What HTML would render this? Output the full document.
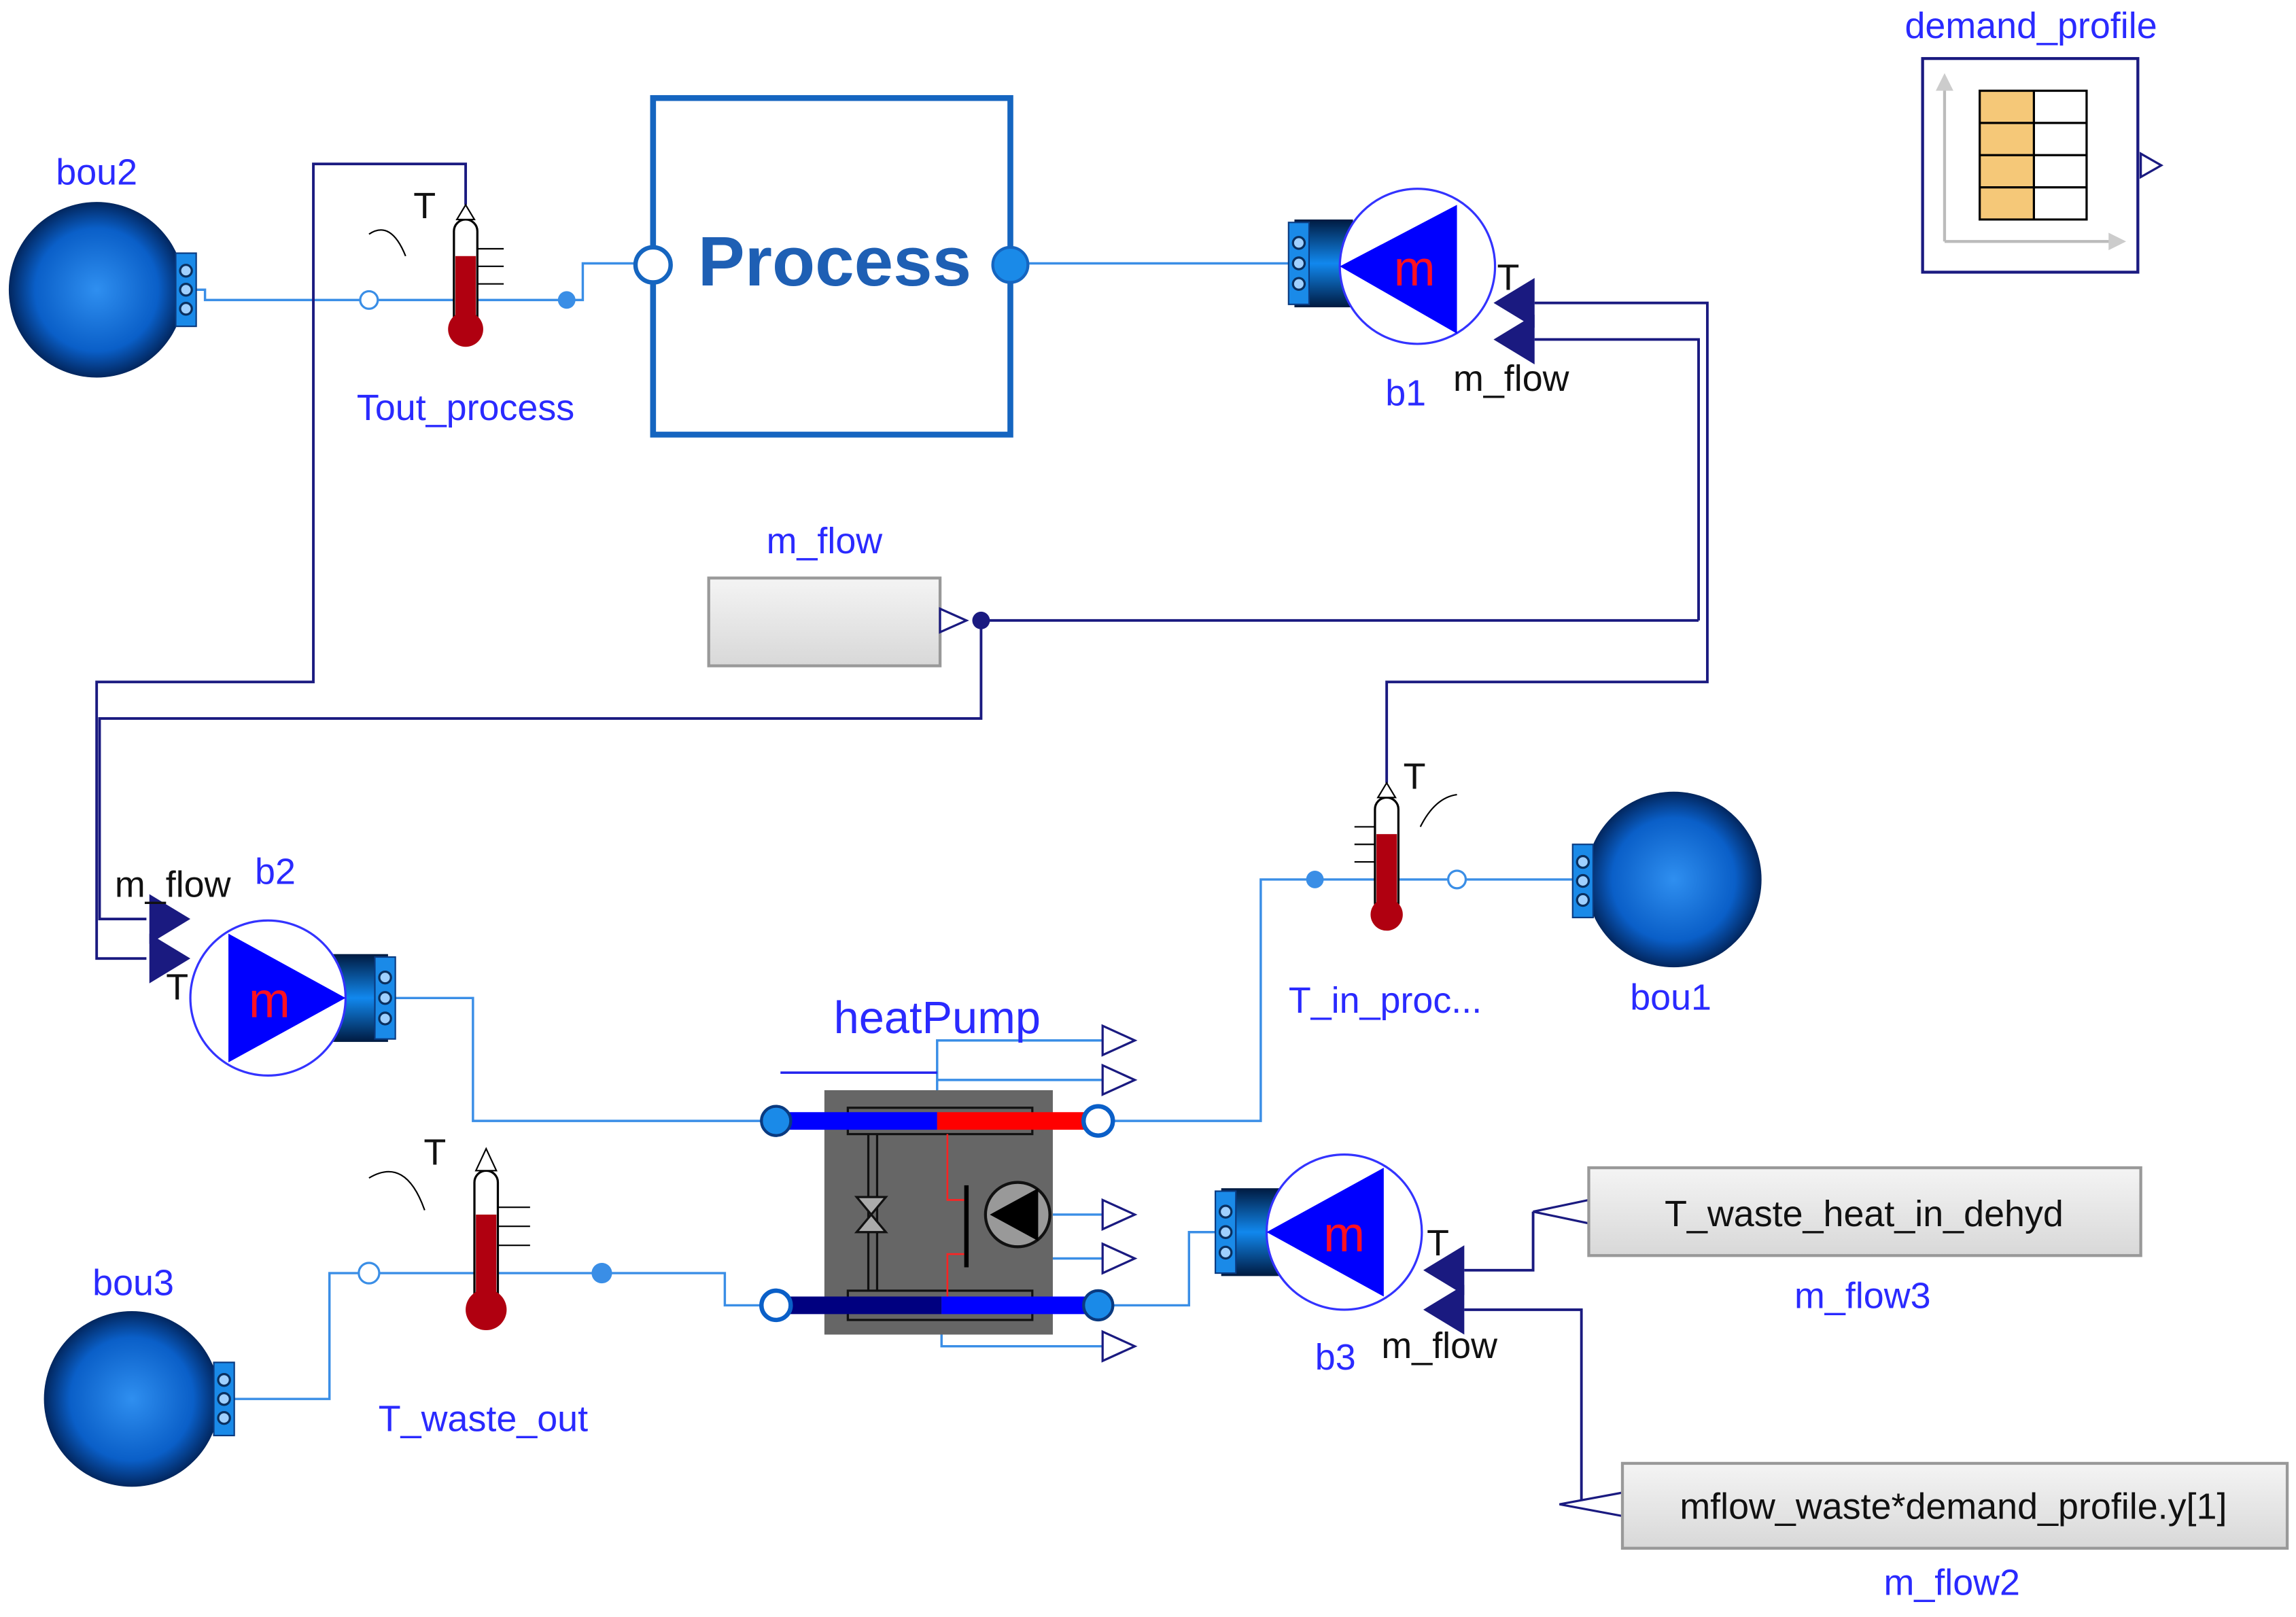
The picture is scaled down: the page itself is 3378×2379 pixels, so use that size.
<!DOCTYPE html>
<html><head><meta charset="utf-8"><style>html,body{margin:0;padding:0;background:#fff}svg{display:block}</style></head><body>
<svg width="3378" height="2379" viewBox="0 0 1568 1105" preserveAspectRatio="none" xmlns="http://www.w3.org/2000/svg" font-family="Liberation Sans, sans-serif">
<defs>
<radialGradient id="rg" cx="50%" cy="50%" r="50%"><stop offset="0" stop-color="#2f8ff0"/><stop offset="0.7" stop-color="#0a5fc8"/><stop offset="1" stop-color="#02265e"/></radialGradient>
<linearGradient id="pg" x1="0" y1="0" x2="0" y2="1"><stop offset="0" stop-color="#001a40"/><stop offset="0.5" stop-color="#1188ee"/><stop offset="1" stop-color="#001a40"/></linearGradient>
<linearGradient id="bg" x1="0" y1="0" x2="0" y2="1"><stop offset="0" stop-color="#f4f4f4"/><stop offset="1" stop-color="#d8d8d8"/></linearGradient>
</defs>
<g fill="none" stroke="#3a8ee6" stroke-width="1.6">
<polyline points="134,198 140,198 140,205 398,205 398,180 446,180"/>
<line x1="702" y1="180" x2="882" y2="180"/>
<polyline points="1074,601 861,601 861,766 750,766"/>
<polyline points="270,682 323,682 323,766 530,766"/>
<polyline points="750,892 812,892 812,842 832,842"/>
<polyline points="160,956 225,956 225,870 495,870 495,892 530,892"/>
<polyline points="640,766 640,711 755,711"/><line x1="640" y1="738" x2="755" y2="738"/>
<line x1="719" y1="830" x2="755" y2="830"/><line x1="719" y1="860" x2="755" y2="860"/>
<polyline points="643,892 643,920 755,920"/>
</g>
<line x1="533" y1="733" x2="640" y2="733" stroke="#2222ee" stroke-width="1.6"/>
<g fill="none" stroke="#1a1a80" stroke-width="1.8">
<polyline points="318,140 318,112 214,112 214,466 66,466 66,655 100,655"/>
<polyline points="670,424 670,491 68,491 68,628 100,628"/>
<line x1="670" y1="424" x2="1160" y2="424"/>
<polyline points="1160,424 1160,232 1048,232"/>
<polyline points="1048,207 1166,207 1166,466 947,466 947,535"/>
<polyline points="1047,828 1047,868 1000,868"/>
<polyline points="1080,1028 1080,895 1000,895"/>
</g>
<circle cx="670" cy="424" r="6" fill="#1a1a80"/>
<circle cx="66" cy="198" r="60" fill="url(#rg)"/><rect x="120" y="173" width="14" height="50" fill="#1a8ae8" stroke="#0a3a80"/>
<circle cx="1143" cy="601" r="60" fill="url(#rg)"/><rect x="1074" y="577" width="14" height="50" fill="#1a8ae8" stroke="#0a3a80"/>
<circle cx="90" cy="956" r="60" fill="url(#rg)"/><rect x="146" y="931" width="14" height="50" fill="#1a8ae8" stroke="#0a3a80"/>
<g fill="#9fd0ff" stroke="#0a3060" stroke-width="1.5">
<circle cx="127" cy="185" r="4"/><circle cx="127" cy="198" r="4"/><circle cx="127" cy="211" r="4"/>
<circle cx="1081" cy="589" r="4"/><circle cx="1081" cy="602" r="4"/><circle cx="1081" cy="615" r="4"/>
<circle cx="153" cy="943" r="4"/><circle cx="153" cy="956" r="4"/><circle cx="153" cy="969" r="4"/>
</g>
<g>
<rect x="310" y="150" width="16" height="75" rx="8" fill="#fff" stroke="#000" stroke-width="1.5"/><rect x="311" y="175" width="14" height="50" fill="#b00010"/><circle cx="318" cy="225" r="12" fill="#b00010"/>
<path d="M326,170h18M326,182h18M326,194h18" stroke="#000"/><path d="M312,150l6,-10l6,10z" fill="#fff" stroke="#000"/>
<path d="M252,160q15,-10 25,15" fill="none" stroke="#000"/>
<circle cx="252" cy="205" r="6" fill="#fff" stroke="#3a8ee6" stroke-width="1.5"/><circle cx="387" cy="205" r="6" fill="#3a8ee6"/>
</g>
<g>
<rect x="939" y="545" width="16" height="80" rx="8" fill="#fff" stroke="#000" stroke-width="1.5"/><rect x="940" y="570" width="14" height="55" fill="#b00010"/><circle cx="947" cy="625" r="11" fill="#b00010"/>
<path d="M925,565h14M925,577h14M925,589h14" stroke="#000"/><path d="M941,545l6,-10l6,10z" fill="#fff" stroke="#000"/>
<path d="M970,565q10,-20 25,-22" fill="none" stroke="#000"/>
<circle cx="898" cy="601" r="6" fill="#3a8ee6"/><circle cx="995" cy="601" r="6" fill="#fff" stroke="#3a8ee6" stroke-width="1.5"/>
</g>
<g>
<rect x="324" y="800" width="16" height="95" rx="8" fill="#fff" stroke="#000" stroke-width="1.5"/><rect x="325" y="830" width="14" height="65" fill="#b00010"/><circle cx="332" cy="895" r="14" fill="#b00010"/>
<path d="M340,825h22M340,838h22M340,851h22" stroke="#000"/><path d="M325,800l7,-15l7,15z" fill="#fff" stroke="#000"/>
<path d="M252,805q25,-15 38,22" fill="none" stroke="#000"/>
<circle cx="252" cy="870" r="7" fill="#fff" stroke="#3a8ee6" stroke-width="1.5"/><circle cx="411" cy="870" r="7" fill="#3a8ee6"/>
</g>
<rect x="446" y="67" width="244" height="230" fill="#fff" stroke="#1565c0" stroke-width="4"/>
<text x="570" y="195" font-size="48" font-weight="bold" fill="#1e5fb4" text-anchor="middle">Process</text>
<circle cx="446" cy="181" r="12" fill="#fff" stroke="#1565c0" stroke-width="3"/><circle cx="690" cy="181" r="12" fill="#1a8ae8" stroke="#1565c0" stroke-width="2"/>
<g>
<rect x="884" y="150" width="40" height="60" fill="url(#pg)"/><rect x="880" y="152" width="14" height="56" fill="#1a8ae8" stroke="#0a3a80"/>
<g fill="#9fd0ff" stroke="#0a3060" stroke-width="1.5"><circle cx="887" cy="166" r="4"/><circle cx="887" cy="180" r="4"/><circle cx="887" cy="194" r="4"/></g>
<circle cx="968" cy="182" r="53" fill="#fff" stroke="#3333ff" stroke-width="1.5"/>
<polygon points="915,182 995,140 995,228" fill="#0000ff"/><text x="966" y="195" font-size="34" fill="#ff1020" text-anchor="middle">m</text>
<polygon points="1020,207 1048,190 1048,224" fill="#1a1a80"/><polygon points="1020,232 1048,215 1048,249" fill="#1a1a80"/>
</g>
<g>
<rect x="225" y="652" width="40" height="60" fill="url(#pg)"/><rect x="256" y="654" width="14" height="56" fill="#1a8ae8" stroke="#0a3a80"/>
<g fill="#9fd0ff" stroke="#0a3060" stroke-width="1.5"><circle cx="263" cy="668" r="4"/><circle cx="263" cy="682" r="4"/><circle cx="263" cy="696" r="4"/></g>
<circle cx="183" cy="682" r="53" fill="#fff" stroke="#3333ff" stroke-width="1.5"/>
<polygon points="236,682 156,638 156,726" fill="#0000ff"/><text x="184" y="695" font-size="34" fill="#ff1020" text-anchor="middle">m</text>
<polygon points="130,628 102,611 102,645" fill="#1a1a80"/><polygon points="130,655 102,638 102,672" fill="#1a1a80"/>
</g>
<g>
<rect x="834" y="812" width="40" height="60" fill="url(#pg)"/><rect x="830" y="814" width="14" height="56" fill="#1a8ae8" stroke="#0a3a80"/>
<g fill="#9fd0ff" stroke="#0a3060" stroke-width="1.5"><circle cx="837" cy="828" r="4"/><circle cx="837" cy="842" r="4"/><circle cx="837" cy="856" r="4"/></g>
<circle cx="918" cy="842" r="53" fill="#fff" stroke="#3333ff" stroke-width="1.5"/>
<polygon points="865,842 945,798 945,886" fill="#0000ff"/><text x="918" y="855" font-size="34" fill="#ff1020" text-anchor="middle">m</text>
<polygon points="972,868 1000,851 1000,885" fill="#1a1a80"/><polygon points="972,895 1000,878 1000,912" fill="#1a1a80"/>
</g>
<rect x="484" y="395" width="158" height="60" fill="url(#bg)" stroke="#999" stroke-width="2"/>
<polygon points="642,416 660,424 642,432" fill="#fff" stroke="#1a1a80" stroke-width="1.5"/>
<rect x="1313" y="40" width="147" height="146" fill="#fff" stroke="#1a1a80" stroke-width="2"/>
<path d="M1328,165V52M1328,165H1450" stroke="#bbb" stroke-width="2"/><path d="M1322,62l6,-12l6,12zM1440,159l12,6l-12,6z" fill="#ccc"/>
<rect x="1352" y="62" width="37" height="88" fill="#f5c878"/><rect x="1389" y="62" width="36" height="88" fill="#fff"/>
<path d="M1352,62h73v88h-73zM1352,84h73M1352,106h73M1352,128h73M1389,62v88" fill="none" stroke="#000" stroke-width="1.5"/>
<polygon points="1462,105 1476,113 1462,121" fill="#fff" stroke="#1a1a80" stroke-width="1.5"/>
<rect x="563" y="745" width="156" height="167" fill="#666"/>
<rect x="579" y="757" width="126" height="18" fill="none" stroke="#111" stroke-width="1.5"/><rect x="579" y="882" width="126" height="20" fill="none" stroke="#111" stroke-width="1.5"/>
<path d="M593,775V882M599,775V882" stroke="#111" stroke-width="1.5"/>
<path d="M585,818h20l-20,24h20z" fill="#aaa" stroke="#111" stroke-width="1.5"/>
<path d="M647,775V820h12M647,892V857h12" fill="none" stroke="#f22" stroke-width="1.2"/>
<line x1="660" y1="810" x2="660" y2="866" stroke="#000" stroke-width="3"/>
<circle cx="695" cy="830" r="22" fill="#999" stroke="#111" stroke-width="2"/><polygon points="676,830 709,812 709,848" fill="#000"/>
<line x1="530" y1="766" x2="640" y2="766" stroke="#0000ff" stroke-width="12"/><line x1="640" y1="766" x2="750" y2="766" stroke="#ff0000" stroke-width="12"/>
<line x1="530" y1="892" x2="643" y2="892" stroke="#000080" stroke-width="12"/><line x1="643" y1="892" x2="750" y2="892" stroke="#0000ff" stroke-width="12"/>
<circle cx="530" cy="766" r="10" fill="#1a8ae8" stroke="#0a3a80" stroke-width="2"/><circle cx="750" cy="766" r="10" fill="#fff" stroke="#0a5fc8" stroke-width="3"/>
<circle cx="530" cy="892" r="10" fill="#fff" stroke="#0a5fc8" stroke-width="3"/><circle cx="750" cy="892" r="10" fill="#1a8ae8" stroke="#0a3a80" stroke-width="2"/>
<g fill="#fff" stroke="#1a1a80" stroke-width="1.5">
<polygon points="753,701 775,711 753,721"/><polygon points="753,728 775,738 753,748"/><polygon points="753,820 775,830 753,840"/><polygon points="753,850 775,860 753,870"/><polygon points="753,910 775,920 753,930"/>
<polygon points="1085,820 1047,828 1085,836"/><polygon points="1108,1020 1065,1028 1108,1036"/>
</g>
<rect x="1085" y="798" width="377" height="60" fill="url(#bg)" stroke="#999" stroke-width="2"/>
<rect x="1108" y="1000" width="454" height="58" fill="url(#bg)" stroke="#999" stroke-width="2"/>
<g font-size="25" fill="#111" text-anchor="middle">
<text x="1273" y="838">T_waste_heat_in_dehyd</text><text x="1334" y="1038">mflow_waste*demand_profile.y[1]</text>
</g>
<g font-size="25" fill="#2a2aff" text-anchor="middle">
<text x="66" y="126">bou2</text><text x="318" y="287">Tout_process</text><text x="563" y="378">m_flow</text>
<text x="1387" y="26">demand_profile</text><text x="960" y="277">b1</text><text x="946" y="692">T_in_proc...</text>
<text x="1141" y="690">bou1</text><text x="188" y="604">b2</text><text x="91" y="885">bou3</text><text x="330" y="978">T_waste_out</text>
<text x="912" y="936">b3</text><text x="1272" y="894">m_flow3</text><text x="1333" y="1090">m_flow2</text>
<text x="640" y="706" font-size="31">heatPump</text>
</g>
<g font-size="25" fill="#111" text-anchor="middle">
<text x="290" y="149">T</text><text x="1030" y="198">T</text><text x="1032" y="267">m_flow</text><text x="966" y="539">T</text>
<text x="118" y="613">m_flow</text><text x="121" y="683">T</text><text x="297" y="796">T</text><text x="982" y="858">T</text><text x="983" y="928">m_flow</text>
</g>
</svg>
</body></html>
